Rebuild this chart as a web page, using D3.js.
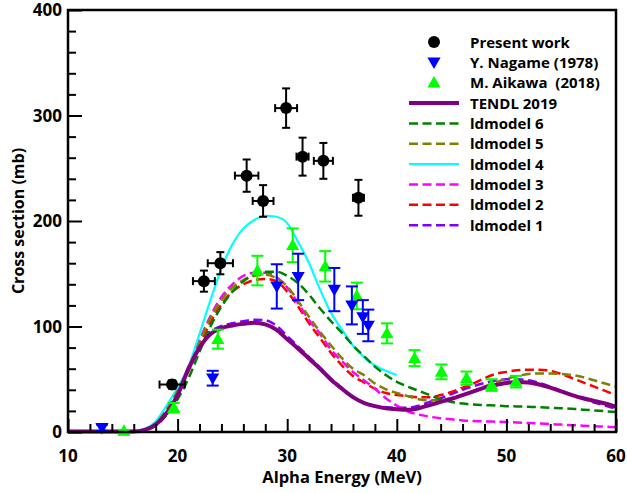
<!DOCTYPE html>
<html>
<head>
<meta charset="utf-8">
<script src="https://cdn.jsdelivr.net/npm/d3@7"></script>
<style>
  body { margin: 0; background: #fff; }
  text { font-family: "Open Sans", "DejaVu Sans", sans-serif; font-weight: bold; }
</style>
</head>
<body>
<div id="chart"></div>
<script>
var width = 627, height = 493;
var margin = {left: 68, right: 11, top: 10, bottom: 61};

// model energy grid (MeV)
var energies = [10, 16, 17, 18, 19, 20, 21, 22, 23, 24, 25, 26, 27, 28, 29, 30,
                31, 32, 33, 34, 35, 36, 37, 38, 39, 40, 41, 42, 43, 44, 45,
                46, 47, 48, 49, 50, 51, 52, 53, 54, 55, 56, 57, 58, 59, 60];

var tendl2019 = [0.5, 0.5, 2, 7, 18, 35, 60, 80, 93, 98.5, 101, 102.5, 103.5, 102, 97, 88,
                 79, 69.5, 60, 49.5, 41, 33, 27.5, 24.5, 22.5, 21.5, 21, 22.5, 25.5, 28.5, 31.5,
                 35, 38.5, 42, 44.5, 46.5, 47.5, 47, 45, 42, 38.5, 35, 32, 29.5, 27, 24];
var ldmodel6 = [0.3, 0.3, 1.5, 6, 16, 31, 51, 76, 100, 119, 133, 143, 149, 152, 152, 148,
                141, 130, 117, 105, 94, 82, 72, 62, 54, 47.5, 43, 39, 35, 31, 28.5,
                27, 26, 25.5, 25, 24.5, 24.2, 24, 23.5, 23, 22.5, 22, 21.2, 20.5, 19.7, 19];
var ldmodel5 = [0.5, 0.5, 2, 8, 21, 39, 60, 85, 108, 125, 137, 144, 148, 149, 146, 138,
                124, 109, 95, 82, 70, 60, 54, 46, 40.5, 37, 34, 31, 30, 30.5, 32,
                35, 39, 43, 47, 50.5, 53, 55, 55.5, 55.5, 55, 54, 52, 49, 46, 43];
var ldmodel4 = [1, 1, 3, 10, 25, 42, 62, 93, 125, 155, 178, 193, 201, 205, 204, 198,
                180, 160, 135, 113, 97, 82, 71, 63, 58, 54];
var ldmodel3 = [0.5, 0.5, 2, 9, 22, 40, 62, 87, 110, 128, 140, 148, 151, 151, 147, 137,
                122, 106, 93, 78, 67, 57, 49, 41, 32, 25, 19.5, 16.5, 14.5, 13, 12,
                11, 10.5, 10, 9.8, 9.5, 9, 8.5, 8, 7.5, 7, 6.5, 6, 5.5, 5, 4.5];
var ldmodel2 = [0.5, 0.5, 2, 8, 20, 37, 58, 82, 104, 121, 133, 140, 144, 145, 143, 133,
                119, 103, 89, 75, 63, 53, 47, 41, 37, 35, 34, 33, 33, 35, 38,
                42, 46, 51, 55, 57, 58.5, 59, 59, 58, 55, 51, 47, 43, 39, 35];
var ldmodel1 = [0.5, 0.5, 2, 7, 18, 36, 61, 82, 95, 100.5, 103, 105, 106.5, 106, 101, 91,
                81, 71, 61, 50.5, 41.5, 33.5, 28, 25, 23.5, 23, 23, 25, 28.5, 32, 36,
                40, 43.5, 46.5, 48.5, 50, 50, 49, 46.5, 43, 39, 35, 31.5, 28, 25, 22];

// Present work
var presentE  = [19.5, 22.4, 23.9, 26.3, 27.8, 29.9, 31.4, 33.3, 36.5];
var presentS  = [45, 143, 160, 243, 219, 307, 261, 257, 222];
var presentDE = [1.15, 1.0, 1.15, 1.07, 0.95, 1.0, 0.55, 0.87, 0.5];
var presentDS = [4, 10, 10.5, 15.3, 15, 18.7, 18, 17, 17];

// Y. Nagame (1978)
var nagameE  = [13.1, 23.2, 29.05, 31.0, 34.3, 35.9, 36.9, 37.4];
var nagameS  = [4, 51, 138, 147, 135, 120, 109, 101];
var nagameDS = [3, 7, 21, 22, 20.5, 18, 16, 15];

// M. Aikawa (2018)
var aikawaE  = [15.1, 19.65, 23.67, 27.28, 30.5, 33.47, 36.35, 39.1, 41.62, 44.07, 46.36, 48.65, 50.87];
var aikawaS  = [1, 23, 88, 153, 177, 157, 129, 93.5, 70, 57, 51, 44.5, 47.7];
var aikawaDS = [1, 4.5, 9, 14, 16, 14.4, 12.6, 9.5, 7.6, 7, 6.3, 5.5, 5.5];

var xTicks = [10, 20, 30, 40, 50, 60];
var yTicks = [0, 100, 200, 300, 400];

var models = [
  {name: "TENDL 2019", values: tendl2019, color: "#800080", width: 4, dash: null},
  {name: "ldmodel 6", values: ldmodel6, color: "#008000", width: 2.5, dash: "9,4.5"},
  {name: "ldmodel 5", values: ldmodel5, color: "#808000", width: 2.5, dash: "9,4.5"},
  {name: "ldmodel 4", values: ldmodel4, color: "#00ffff", width: 2.2, dash: null},
  {name: "ldmodel 3", values: ldmodel3, color: "#ff00ff", width: 2.5, dash: "9,4.5"},
  {name: "ldmodel 2", values: ldmodel2, color: "#ff0000", width: 2.5, dash: "9,4.5"},
  {name: "ldmodel 1", values: ldmodel1, color: "#8000ff", width: 2.5, dash: "9,4.5"}
];

var x = d3.scaleLinear().domain([10, 60]).range([margin.left, width - margin.right]);
var y = d3.scaleLinear().domain([0, 400]).range([height - margin.bottom, margin.top]);

var svg = d3.select("#chart").append("svg")
    .attr("width", width)
    .attr("height", height);

var plot = svg.append("g");

// curves
var line = d3.line()
    .x(function(d) { return x(d[0]); })
    .y(function(d) { return y(d[1]); })
    .curve(d3.curveMonotoneX);

models.slice().reverse().forEach(function(m) {
    var pts = m.values.map(function(v, i) { return [energies[i], v]; });
    plot.append("path")
        .attr("d", line(pts))
        .attr("fill", "none")
        .attr("stroke", m.color)
        .attr("stroke-width", m.width)
        .attr("stroke-dasharray", m.dash);
});

var triUp = d3.symbol().type(d3.symbolTriangle).size(75);

function errY(g, ex, sy, ds, color, cap) {
    g.append("line").attr("x1", x(ex)).attr("x2", x(ex))
        .attr("y1", y(sy - ds)).attr("y2", y(sy + ds))
        .attr("stroke", color).attr("stroke-width", 2);
    [sy - ds, sy + ds].forEach(function(v) {
        g.append("line").attr("x1", x(ex) - cap).attr("x2", x(ex) + cap)
            .attr("y1", y(v)).attr("y2", y(v))
            .attr("stroke", color).attr("stroke-width", 2);
    });
}

// Aikawa
aikawaE.forEach(function(e, i) {
    errY(plot, e, aikawaS[i], aikawaDS[i], "#00ff00", 6);
    plot.append("path").attr("d", triUp)
        .attr("transform", "translate(" + x(e) + "," + (y(aikawaS[i]) + 1) + ")")
        .attr("fill", "#00ff00");
});

// Nagame
nagameE.forEach(function(e, i) {
    errY(plot, e, nagameS[i], nagameDS[i], "#0000ff", 6);
    plot.append("path").attr("d", triUp)
        .attr("transform", "translate(" + x(e) + "," + (y(nagameS[i]) - 1) + ") rotate(180)")
        .attr("fill", "#0000ff");
});

// Present work
presentE.forEach(function(e, i) {
    var s = presentS[i];
    errY(plot, e, s, presentDS[i], "#000", 4);
    plot.append("line").attr("x1", x(e - presentDE[i])).attr("x2", x(e + presentDE[i]))
        .attr("y1", y(s)).attr("y2", y(s))
        .attr("stroke", "#000").attr("stroke-width", 2);
    [e - presentDE[i], e + presentDE[i]].forEach(function(v) {
        plot.append("line").attr("x1", x(v)).attr("x2", x(v))
            .attr("y1", y(s) - 4).attr("y2", y(s) + 4)
            .attr("stroke", "#000").attr("stroke-width", 2);
    });
    plot.append("circle").attr("cx", x(e)).attr("cy", y(s)).attr("r", 6).attr("fill", "#000");
});

// axes: ticks inside, no domain (frame drawn separately)
var xAxis = svg.append("g")
    .attr("transform", "translate(0," + y(0) + ")")
    .call(d3.axisBottom(x).tickValues(d3.range(10, 61, 2)).tickSize(-8).tickFormat(""));
xAxis.selectAll(".tick line").filter(function(d) { return xTicks.indexOf(d) >= 0; }).attr("y2", -13);
var yAxis = svg.append("g")
    .attr("transform", "translate(" + x(10) + ",0)")
    .call(d3.axisLeft(y).tickValues(d3.range(0, 401, 20)).tickSize(-8).tickFormat(""));
yAxis.selectAll(".tick line").filter(function(d) { return yTicks.indexOf(d) >= 0; }).attr("x2", 14);
svg.selectAll(".domain").remove();
svg.selectAll(".tick line").attr("stroke", "#000").attr("stroke-width", 2);

svg.append("rect")
    .attr("x", x(10)).attr("y", y(400))
    .attr("width", x(60) - x(10)).attr("height", y(0) - y(400))
    .attr("fill", "none").attr("stroke", "#000").attr("stroke-width", 2.5);

svg.selectAll(".xlab").data(xTicks).enter().append("text")
    .attr("x", function(d) { return x(d); })
    .attr("y", y(0) + 30)
    .attr("text-anchor", "middle")
    .style("font-size", "17px")
    .text(function(d) { return d; });
svg.selectAll(".ylab").data(yTicks).enter().append("text")
    .attr("x", x(10) - 6)
    .attr("y", function(d) { return y(d) + 6; })
    .attr("text-anchor", "end")
    .style("font-size", "17px")
    .text(function(d) { return d; });

svg.append("text")
    .attr("x", (x(10) + x(60)) / 2).attr("y", 483)
    .attr("text-anchor", "middle").style("font-size", "16.5px")
    .text("Alpha Energy (MeV)");
svg.append("text")
    .attr("transform", "translate(24," + ((y(0) + y(400)) / 2) + ") rotate(-90)")
    .attr("text-anchor", "middle").style("font-size", "16px")
    .text("Cross section (mb)");

// legend
var legendRows = [
  {name: "Present work", kind: "circle"},
  {name: "Y. Nagame (1978)", kind: "down"},
  {name: "M. Aikawa  (2018)", kind: "up"}
].concat(models.map(function(m) { return {name: m.name, kind: "line", m: m}; }));

var legend = svg.append("g").selectAll("g")
    .data(legendRows).enter().append("g")
    .attr("transform", function(d, i) { return "translate(0," + (42 + i * 20.35) + ")"; });

legend.each(function(d) {
    var g = d3.select(this);
    if (d.kind === "circle") {
        g.append("circle").attr("cx", 434).attr("cy", 0).attr("r", 6).attr("fill", "#000");
    } else if (d.kind === "down") {
        g.append("path").attr("d", triUp).attr("transform", "translate(434,-1) rotate(180)").attr("fill", "#0000ff");
    } else if (d.kind === "up") {
        g.append("path").attr("d", triUp).attr("transform", "translate(434,1)").attr("fill", "#00ff00");
    } else {
        g.append("line").attr("x1", 409).attr("x2", 459).attr("y1", 0).attr("y2", 0)
            .attr("stroke", d.m.color).attr("stroke-width", d.m.width)
            .attr("stroke-dasharray", d.m.dash);
    }
    g.append("text").attr("x", 470).attr("y", 5.5).style("font-size", "15px")
        .style("white-space", "pre").attr("xml:space", "preserve").text(d.name);
});
</script>
</body>
</html>
